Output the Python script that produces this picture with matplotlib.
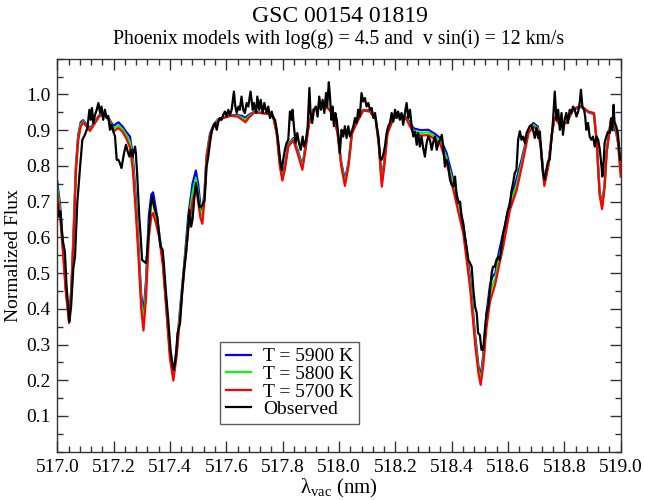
import numpy as np
import matplotlib
matplotlib.use("Agg")
import matplotlib.pyplot as plt
from matplotlib.ticker import MultipleLocator, FormatStrFormatter

plt.rcParams["font.family"] = ["Liberation Serif", "DejaVu Serif"]
plt.rcParams["mathtext.fontset"] = "custom"
plt.rcParams["mathtext.rm"] = "Liberation Serif"
plt.rcParams["mathtext.it"] = "Liberation Serif:italic"
plt.rcParams["mathtext.default"] = "regular"

# Phoenix model spectra (common wavelength grid, nm)
wl_model = [
    517.000, 517.010, 517.020, 517.030, 517.042, 517.050, 517.058, 517.066, 517.074, 517.083,
    517.092, 517.102, 517.116, 517.130, 517.150, 517.170, 517.185, 517.199, 517.217, 517.232,
    517.245, 517.258, 517.268, 517.278, 517.288, 517.298, 517.306, 517.315, 517.325, 517.334,
    517.340, 517.350, 517.362, 517.375, 517.388, 517.400, 517.412, 517.424, 517.436, 517.450,
    517.465, 517.480, 517.492, 517.500, 517.508, 517.515, 517.522, 517.530, 517.542, 517.555,
    517.570, 517.590, 517.615, 517.640, 517.655, 517.668, 517.680, 517.700, 517.725, 517.750,
    517.767, 517.779, 517.790, 517.799, 517.808, 517.820, 517.838, 517.855, 517.870, 517.882,
    517.893, 517.910, 517.935, 517.960, 517.980, 517.995, 518.008, 518.021, 518.034, 518.046,
    518.063, 518.086, 518.110, 518.130, 518.141, 518.152, 518.161, 518.172, 518.193, 518.217,
    518.240, 518.265, 518.290, 518.317, 518.340, 518.359, 518.382, 518.406, 518.424, 518.441,
    518.465, 518.483, 518.495, 518.503, 518.512, 518.524, 518.536, 518.545, 518.555, 518.568,
    518.583, 518.607, 518.631, 518.649, 518.673, 518.690, 518.706, 518.716, 518.729, 518.743,
    518.755, 518.765, 518.785, 518.808, 518.832, 518.860, 518.885, 518.905, 518.915, 518.925,
    518.934, 518.943, 518.950, 518.965, 518.980, 518.990, 519.000,
]

flux_5900 = [
    0.756, 0.690, 0.580, 0.460, 0.366, 0.460, 0.620, 0.800, 0.885, 0.922,
    0.928, 0.918, 0.905, 0.920, 0.943, 0.945, 0.930, 0.912, 0.922, 0.910,
    0.895, 0.882, 0.830, 0.720, 0.580, 0.440, 0.383, 0.480, 0.660, 0.720,
    0.726, 0.680, 0.610, 0.535, 0.400, 0.280, 0.220, 0.290, 0.400, 0.520,
    0.660, 0.750, 0.787, 0.750, 0.690, 0.677, 0.720, 0.830, 0.890, 0.915,
    0.930, 0.936, 0.942, 0.942, 0.940, 0.935, 0.943, 0.952, 0.948, 0.947,
    0.938, 0.895, 0.810, 0.770, 0.800, 0.860, 0.878, 0.840, 0.800, 0.860,
    0.920, 0.958, 0.965, 0.962, 0.948, 0.895, 0.810, 0.760, 0.810, 0.895,
    0.925, 0.957, 0.955, 0.935, 0.870, 0.760, 0.815, 0.895, 0.935, 0.945,
    0.935, 0.905, 0.900, 0.901, 0.890, 0.878, 0.836, 0.761, 0.700, 0.640,
    0.490, 0.330, 0.240, 0.210, 0.270, 0.390, 0.465, 0.490, 0.500, 0.560,
    0.612, 0.700, 0.765, 0.820, 0.900, 0.920, 0.910, 0.860, 0.752, 0.805,
    0.885, 0.935, 0.915, 0.922, 0.958, 0.965, 0.950, 0.945, 0.870, 0.730,
    0.690, 0.750, 0.840, 0.925, 0.905, 0.870, 0.800,
]

flux_5800 = [
    0.740, 0.675, 0.570, 0.455, 0.362, 0.455, 0.610, 0.790, 0.878, 0.916,
    0.925, 0.915, 0.901, 0.918, 0.941, 0.943, 0.928, 0.904, 0.914, 0.902,
    0.886, 0.867, 0.810, 0.700, 0.565, 0.420, 0.360, 0.455, 0.630, 0.690,
    0.697, 0.660, 0.605, 0.528, 0.395, 0.270, 0.210, 0.280, 0.390, 0.510,
    0.640, 0.725, 0.765, 0.725, 0.672, 0.660, 0.710, 0.825, 0.886, 0.912,
    0.928, 0.935, 0.941, 0.940, 0.935, 0.928, 0.939, 0.951, 0.948, 0.946,
    0.936, 0.892, 0.805, 0.765, 0.795, 0.857, 0.875, 0.835, 0.795, 0.855,
    0.918, 0.958, 0.965, 0.962, 0.946, 0.892, 0.805, 0.752, 0.805, 0.892,
    0.922, 0.956, 0.953, 0.932, 0.865, 0.750, 0.808, 0.892, 0.933, 0.945,
    0.932, 0.897, 0.892, 0.894, 0.882, 0.870, 0.822, 0.747, 0.685, 0.626,
    0.476, 0.317, 0.230, 0.197, 0.255, 0.370, 0.443, 0.467, 0.485, 0.540,
    0.593, 0.688, 0.749, 0.809, 0.896, 0.915, 0.905, 0.857, 0.748, 0.802,
    0.884, 0.935, 0.915, 0.921, 0.959, 0.967, 0.951, 0.947, 0.867, 0.725,
    0.685, 0.745, 0.838, 0.928, 0.913, 0.870, 0.785,
]

flux_5700 = [
    0.724, 0.660, 0.560, 0.450, 0.360, 0.450, 0.600, 0.780, 0.870, 0.910,
    0.922, 0.912, 0.898, 0.915, 0.940, 0.942, 0.925, 0.896, 0.906, 0.895,
    0.877, 0.852, 0.790, 0.680, 0.550, 0.400, 0.339, 0.430, 0.600, 0.660,
    0.668, 0.640, 0.600, 0.520, 0.390, 0.260, 0.199, 0.270, 0.380, 0.500,
    0.620, 0.700, 0.740, 0.700, 0.655, 0.638, 0.700, 0.820, 0.882, 0.910,
    0.925, 0.934, 0.940, 0.938, 0.930, 0.922, 0.935, 0.950, 0.948, 0.945,
    0.935, 0.890, 0.800, 0.759, 0.790, 0.854, 0.872, 0.830, 0.789, 0.850,
    0.915, 0.958, 0.965, 0.962, 0.945, 0.890, 0.800, 0.744, 0.800, 0.890,
    0.920, 0.955, 0.952, 0.930, 0.860, 0.742, 0.800, 0.890, 0.932, 0.944,
    0.930, 0.890, 0.885, 0.886, 0.875, 0.862, 0.808, 0.733, 0.670, 0.612,
    0.462, 0.304, 0.220, 0.187, 0.240, 0.350, 0.420, 0.444, 0.470, 0.520,
    0.574, 0.677, 0.733, 0.798, 0.892, 0.910, 0.900, 0.854, 0.744, 0.798,
    0.882, 0.935, 0.915, 0.920, 0.960, 0.968, 0.952, 0.948, 0.864, 0.720,
    0.679, 0.740, 0.836, 0.930, 0.922, 0.870, 0.770,
]

# Observed normalized spectrum
wl_obs = [
    517.000, 517.005, 517.011, 517.019, 517.027, 517.033, 517.039, 517.043, 517.049, 517.057,
    517.063, 517.071, 517.081, 517.089, 517.098, 517.107, 517.114, 517.119, 517.123, 517.128,
    517.134, 517.140, 517.146, 517.152, 517.157, 517.163, 517.169, 517.175, 517.181, 517.187,
    517.193, 517.199, 517.205, 517.211, 517.217, 517.222, 517.228, 517.237, 517.244, 517.250,
    517.256, 517.261, 517.267, 517.276, 517.279, 517.284, 517.291, 517.296, 517.301, 517.308,
    517.315, 517.319, 517.325, 517.331, 517.338, 517.344, 517.350, 517.355, 517.362, 517.367,
    517.374, 517.379, 517.386, 517.394, 517.402, 517.410, 517.414, 517.421, 517.427, 517.436,
    517.443, 517.450, 517.457, 517.463, 517.469, 517.475, 517.480, 517.486, 517.492, 517.498,
    517.504, 517.510, 517.516, 517.523, 517.530, 517.536, 517.542, 517.548, 517.554, 517.560,
    517.566, 517.572, 517.577, 517.583, 517.589, 517.595, 517.601, 517.607, 517.613, 517.619,
    517.627, 517.632, 517.637, 517.643, 517.648, 517.654, 517.660, 517.666, 517.672, 517.678,
    517.686, 517.694, 517.698, 517.706, 517.710, 517.717, 517.722, 517.729, 517.735, 517.743,
    517.749, 517.755, 517.761, 517.767, 517.773, 517.779, 517.785, 517.791, 517.797, 517.802,
    517.808, 517.814, 517.820, 517.826, 517.832, 517.835, 517.840, 517.846, 517.852, 517.858,
    517.864, 517.871, 517.876, 517.883, 517.889, 517.895, 517.899, 517.905, 517.911, 517.918,
    517.924, 517.930, 517.936, 517.942, 517.948, 517.954, 517.958, 517.964, 517.968, 517.973,
    517.977, 517.982, 517.987, 517.992, 517.997, 518.003, 518.009, 518.015, 518.021, 518.027,
    518.033, 518.039, 518.045, 518.051, 518.057, 518.063, 518.068, 518.074, 518.080, 518.086,
    518.092, 518.098, 518.104, 518.110, 518.116, 518.122, 518.128, 518.134, 518.140, 518.146,
    518.151, 518.157, 518.163, 518.169, 518.175, 518.181, 518.187, 518.193, 518.199, 518.205,
    518.210, 518.216, 518.222, 518.228, 518.234, 518.240, 518.246, 518.252, 518.258, 518.264,
    518.270, 518.276, 518.281, 518.287, 518.293, 518.299, 518.305, 518.311, 518.317, 518.323,
    518.329, 518.335, 518.341, 518.347, 518.353, 518.359, 518.365, 518.370, 518.376, 518.382,
    518.388, 518.394, 518.400, 518.406, 518.412, 518.418, 518.424, 518.430, 518.435, 518.441,
    518.447, 518.453, 518.459, 518.465, 518.471, 518.477, 518.483, 518.489, 518.494, 518.500,
    518.506, 518.512, 518.518, 518.524, 518.530, 518.536, 518.542, 518.547, 518.553, 518.559,
    518.565, 518.571, 518.577, 518.583, 518.589, 518.595, 518.600, 518.606, 518.612, 518.618,
    518.624, 518.630, 518.636, 518.642, 518.648, 518.654, 518.660, 518.666, 518.671, 518.677,
    518.683, 518.689, 518.695, 518.701, 518.707, 518.713, 518.719, 518.724, 518.730, 518.736,
    518.742, 518.748, 518.754, 518.760, 518.766, 518.772, 518.778, 518.784, 518.790, 518.795,
    518.801, 518.807, 518.813, 518.819, 518.825, 518.831, 518.837, 518.843, 518.849, 518.855,
    518.859, 518.864, 518.870, 518.874, 518.878, 518.884, 518.890, 518.896, 518.902, 518.908,
    518.914, 518.920, 518.926, 518.932, 518.935, 518.940, 518.943, 518.949, 518.955, 518.961,
    518.967, 518.970, 518.975, 518.978, 518.984, 518.990, 518.994, 518.998,
]

flux_obs = [
    0.696, 0.658, 0.673, 0.593, 0.560, 0.462, 0.402, 0.364, 0.406, 0.514,
    0.546, 0.696, 0.798, 0.873, 0.887, 0.906, 0.957, 0.929, 0.962, 0.920,
    0.943, 0.957, 0.976, 0.948, 0.966, 0.929, 0.957, 0.934, 0.940, 0.901,
    0.915, 0.897, 0.882, 0.817, 0.817, 0.808, 0.794, 0.836, 0.859, 0.840,
    0.826, 0.845, 0.826, 0.854, 0.836, 0.770, 0.658, 0.602, 0.537, 0.532,
    0.528, 0.556, 0.621, 0.686, 0.714, 0.686, 0.668, 0.658, 0.602, 0.574,
    0.565, 0.518, 0.444, 0.369, 0.285, 0.238, 0.229, 0.266, 0.332, 0.360,
    0.444, 0.509, 0.556, 0.612, 0.677, 0.630, 0.649, 0.705, 0.752, 0.724,
    0.686, 0.686, 0.691, 0.705, 0.798, 0.826, 0.864, 0.897, 0.911, 0.920,
    0.901, 0.924, 0.934, 0.929, 0.943, 0.952, 0.938, 0.957, 0.943, 0.957,
    1.008, 0.966, 0.948, 0.966, 0.957, 0.994, 0.957, 0.948, 0.976, 0.966,
    1.008, 0.957, 0.976, 0.948, 0.994, 0.957, 0.985, 0.948, 0.976, 0.948,
    0.966, 0.934, 0.952, 0.934, 0.929, 0.901, 0.864, 0.817, 0.789, 0.817,
    0.845, 0.864, 0.873, 0.952, 0.929, 0.957, 0.911, 0.864, 0.892, 0.864,
    0.845, 0.882, 0.854, 0.873, 0.911, 1.018, 0.948, 0.920, 0.957, 0.966,
    0.938, 0.994, 0.957, 0.985, 0.948, 1.004, 0.966, 1.034, 0.994, 0.929,
    0.966, 0.911, 0.948, 0.929, 0.892, 0.836, 0.901, 0.882, 0.911, 0.878,
    0.911, 0.882, 0.896, 0.911, 0.934, 0.920, 0.957, 0.938, 1.004, 0.980,
    0.990, 0.966, 0.976, 0.957, 0.962, 0.934, 0.948, 0.911, 0.882, 0.822,
    0.817, 0.831, 0.854, 0.892, 0.911, 0.920, 0.948, 0.924, 0.957, 0.934,
    0.952, 0.929, 0.948, 0.915, 0.948, 0.976, 0.934, 0.957, 0.911, 0.882,
    0.896, 0.859, 0.892, 0.854, 0.882, 0.850, 0.826, 0.864, 0.882, 0.873,
    0.845, 0.868, 0.882, 0.845, 0.864, 0.873, 0.887, 0.854, 0.798, 0.817,
    0.803, 0.761, 0.747, 0.742, 0.770, 0.714, 0.696, 0.700, 0.658, 0.635,
    0.602, 0.574, 0.537, 0.528, 0.518, 0.453, 0.406, 0.388, 0.332, 0.327,
    0.285, 0.285, 0.341, 0.388, 0.406, 0.453, 0.500, 0.518, 0.518, 0.537,
    0.546, 0.537, 0.574, 0.612, 0.630, 0.658, 0.677, 0.686, 0.728, 0.752,
    0.780, 0.789, 0.873, 0.897, 0.873, 0.882, 0.864, 0.892, 0.901, 0.911,
    0.915, 0.901, 0.878, 0.906, 0.878, 0.896, 0.826, 0.780, 0.761, 0.789,
    0.812, 0.817, 0.873, 0.929, 1.008, 0.929, 0.957, 0.901, 0.948, 0.887,
    0.929, 0.948, 0.920, 0.957, 0.948, 0.966, 0.957, 0.938, 0.952, 0.980,
    1.013, 0.966, 0.957, 0.938, 0.901, 0.920, 0.882, 0.873, 0.882, 0.854,
    0.882, 0.873, 0.845, 0.798, 0.770, 0.817, 0.864, 0.882, 0.896, 0.892,
    0.934, 0.901, 0.971, 0.920, 0.911, 0.892, 0.854, 0.817,
]

series_labels = ["T = 5900 K", "T = 5800 K", "T = 5700 K", "Observed"]
series_colors = ["#0000ff", "#00ff00", "#ff0000", "#000000"]

x_ticks = [517.0, 517.2, 517.4, 517.6, 517.8, 518.0, 518.2, 518.4, 518.6, 518.8, 519.0]
y_ticks = [0.1, 0.2, 0.3, 0.4, 0.5, 0.6, 0.7, 0.8, 0.9, 1.0]

fig = plt.figure(figsize=(6.45, 5.0), dpi=100)
ax = fig.add_axes([0.0888, 0.0966, 0.8735, 0.786])

for flux, lab, col in zip([flux_5900, flux_5800, flux_5700], series_labels[:3], series_colors[:3]):
    ax.plot(wl_model, flux, color=col, lw=1.6, label=lab)
ax.plot(wl_obs, flux_obs, color=series_colors[3], lw=1.6, label=series_labels[3])

ax.set_xlim(517.0, 519.0)
ax.set_ylim(0.0, 1.1)
ax.set_xticks(x_ticks)
ax.set_yticks(y_ticks)
ax.xaxis.set_major_formatter(FormatStrFormatter("%.1f"))
ax.yaxis.set_major_formatter(FormatStrFormatter("%.1f"))
ax.xaxis.set_minor_locator(MultipleLocator(0.04))
ax.yaxis.set_minor_locator(MultipleLocator(0.05))
ax.tick_params(which="both", direction="in", top=True, right=True, width=1.0,
               colors="#333333", labelcolor="black", labelsize=14)
ax.tick_params(which="major", length=8, pad=5)
ax.tick_params(which="minor", length=4)
for sp in ax.spines.values():
    sp.set_linewidth(1.0)
    sp.set_color("#333333")

ax.set_xlabel(r"$\lambda_{vac}$ (nm)", fontsize=15, labelpad=1)
ax.set_ylabel("Normalized Flux", fontsize=14, labelpad=3)

fig.text(0.527, 0.968, "GSC 00154 01819", ha="center", va="center", fontsize=17)
fig.text(0.525, 0.922, "Phoenix models with log(g) = 4.5 and  v sin(i) = 12 km/s",
         ha="center", va="center", fontsize=14.2)

leg = ax.legend(loc="lower left", bbox_to_anchor=(0.2888, 0.0705), borderaxespad=0,
                fontsize=14, frameon=True, fancybox=False, handlelength=1.3,
                handletextpad=0.6, labelspacing=0.0, borderpad=0.3)
leg.get_frame().set_edgecolor("#333333")
leg.get_frame().set_linewidth(1.0)

fig.savefig("out.png", dpi=100)
